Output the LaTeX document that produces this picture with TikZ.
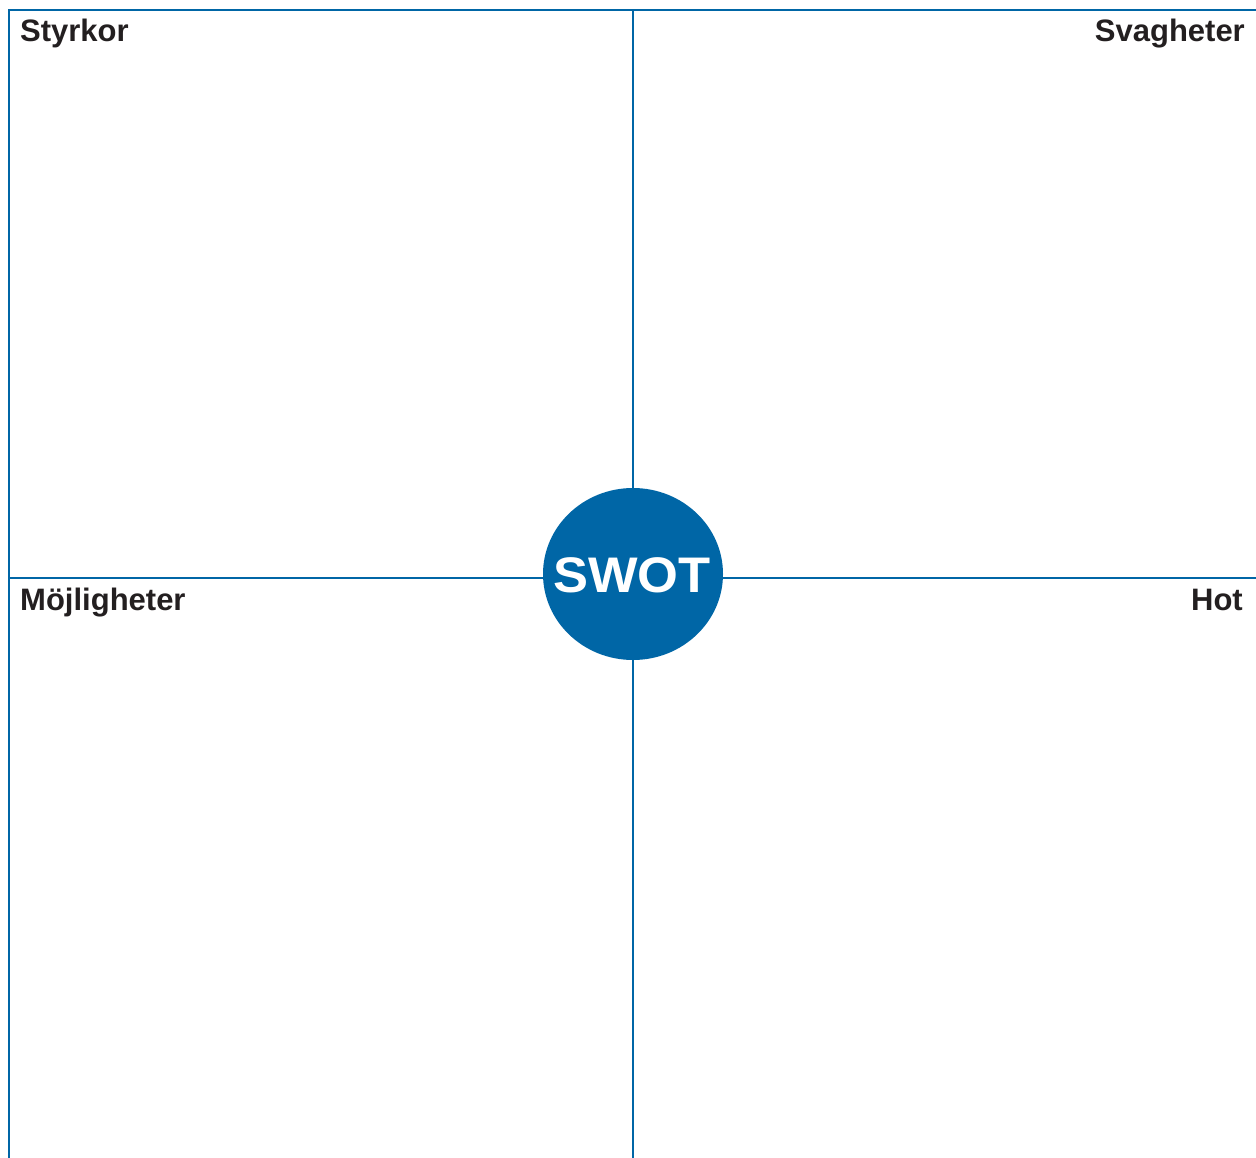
\documentclass[tikz,border=0pt]{standalone}
\usepackage{fontspec}
\setmainfont{Liberation Sans}
\usetikzlibrary{shapes.geometric}
\definecolor{swotblue}{RGB}{0,102,166}
\definecolor{labelgray}{RGB}{35,31,32}

\begin{document}
\begin{tikzpicture}[x=1pt, y=-1pt,
    frame/.style={draw=swotblue, line width=2.6pt},
    quadrant/.style={font=\bfseries\fontsize{31}{31}\selectfont, text=labelgray, inner sep=0pt}
    ]
    \useasboundingbox (0,0) rectangle (1256,1158);
    \coordinate (tl) at (9,10);
    \coordinate (tr) at (1256,10);
    \coordinate (bl) at (9,1158);
    \coordinate (tm) at (633,10);
    \coordinate (bm) at (633,1158);
    \coordinate (ml) at (9,578);
    \coordinate (mr) at (1256,578);
    \draw[frame] (bl) -- (tl) -- (tr);
    \draw[frame] (tm) -- (bm);
    \draw[frame] (ml) -- (mr);
    \node[ellipse, fill=swotblue, inner sep=0pt, minimum width=180pt, minimum height=172pt] (swot) at (633,574) {};
    \node[text=white, font=\bfseries\fontsize{50}{50}\selectfont, inner sep=0pt, xscale=1.05] (swottext) at (632,575) {SWOT};
    \node[quadrant, anchor=base west] (styrkor) at (20,42) {Styrkor};
    \node[quadrant, anchor=base east] (svagheter) at (1245,42) {Svagheter};
    \node[quadrant, anchor=base west] (mojligheter) at (20,610) {Möjligheter};
    \node[quadrant, anchor=base east] (hot) at (1243,610) {Hot};
\end{tikzpicture}
\end{document}
